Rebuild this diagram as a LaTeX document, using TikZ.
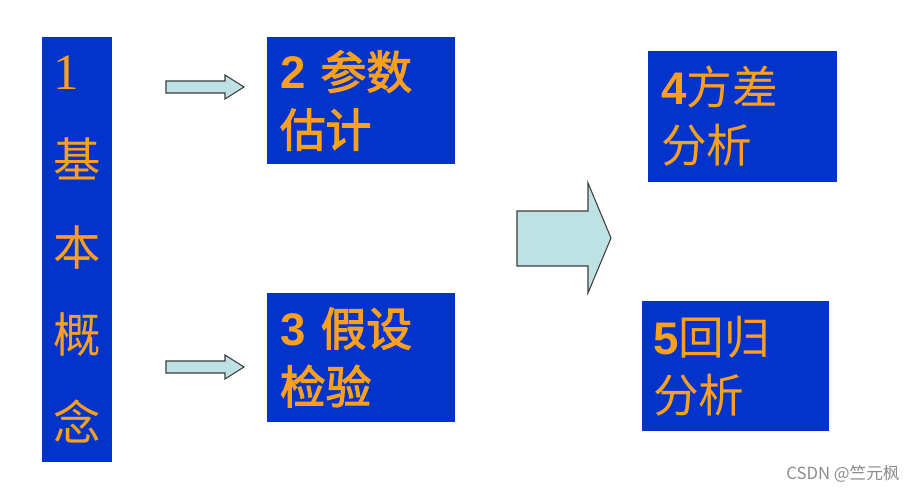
\documentclass[tikz,border=0pt]{standalone}
\usepackage{fontspec}
\newfontfamily\cjk{Noto Sans CJK SC}
\newfontfamily\cjkbold[FakeBold=2.5]{Noto Sans CJK SC}
\newfontfamily\arialfont{Liberation Sans}
\newfontfamily\timesfont{Liberation Serif}
\usepackage{xcolor}
\usepackage{tikz}
\usetikzlibrary{positioning}

\definecolor{boxblue}{RGB}{2,52,204}
\definecolor{txtorange}{RGB}{250,160,30}
\definecolor{arrowfill}{RGB}{190,225,228}
\definecolor{arrowline}{RGB}{60,60,60}

\begin{document}
\begin{tikzpicture}[
  x=0.02cm, y=-0.02cm,
  topic/.style={fill=boxblue, text=txtorange, align=left, inner ysep=0pt,
    inner xsep=0.26cm, font=\cjk\fontsize{26}{33}\selectfont},
  blockarrow/.style={draw=arrowline, fill=arrowfill, line width=0.6pt, line join=miter}
]
\path[fill=white] (0,0) rectangle (917,490);

% Left column
\node[topic, minimum width=1.4cm, minimum height=8.5cm, text width=0.96cm,
  inner xsep=0.22cm, font=\cjk\fontsize{27}{50}\selectfont] (basics) at (77,249.5)
  {{\timesfont\fontsize{29}{50}\selectfont 1}\\基\\本\\概\\念};

% Middle boxes
\node[topic, minimum height=2.54cm, text width=3.24cm] (estim) at (361,100.5)
  {{\arialfont\bfseries 2} \cjkbold 参数\\\cjkbold 估计};
\node[topic, minimum height=2.58cm, text width=3.24cm] (test) at (361,357.5)
  {{\arialfont\bfseries 3} \cjkbold 假设\\\cjkbold 检验};

% Right boxes
\node[topic, minimum height=2.62cm, text width=3.26cm] (anova) at (742.5,116.5)
  {{\arialfont\bfseries 4}方差\\分析};
\node[topic, minimum height=2.6cm, text width=3.3cm, inner xsep=0.22cm] (regr) at (735.5,366)
  {{\arialfont\bfseries 5}回归\\分析};

% Block arrows
\foreach \dy in {0,280}
  \draw[blockarrow, yshift=-\dy*0.02cm] (166,81) -- (225,81) -- (225,75) -- (244,87)
    -- (225,99) -- (225,93) -- (166,93) -- cycle;
\draw[blockarrow] (517,211) -- (588,211) -- (588,183) -- (611,238)
  -- (588,293) -- (588,266) -- (517,266) -- cycle;

% Watermark
\node[anchor=east, text=black!45, font=\cjk\fontsize{9.5}{11}\selectfont, inner sep=0pt]
  (mark) at (900,474) {CSDN @竺元枫};
\end{tikzpicture}
\end{document}
